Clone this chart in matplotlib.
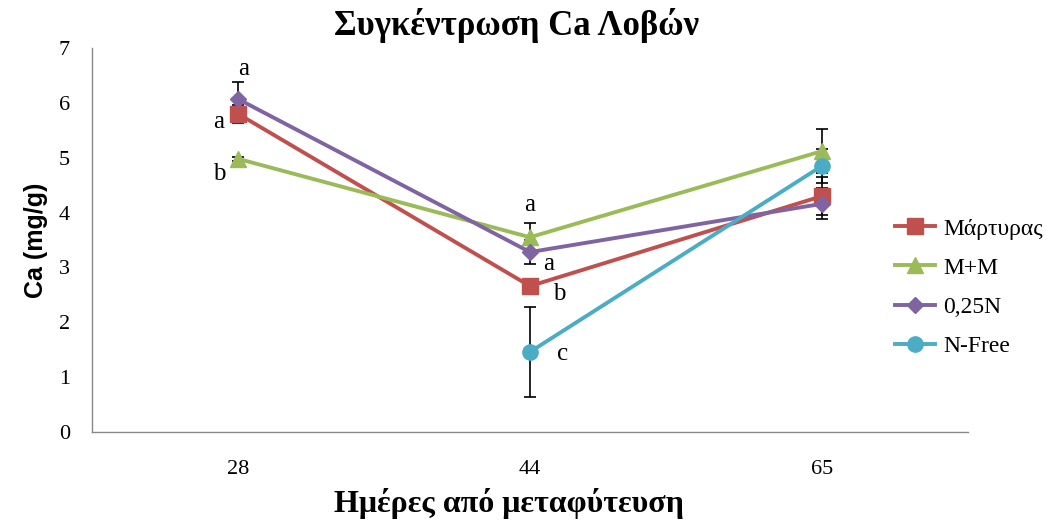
import numpy as np
import matplotlib
matplotlib.use('Agg')
import matplotlib.pyplot as plt

days = ['28', '44', '65']

control = [5.80, 2.66, 4.30]
control_err = [0.16, 0.10, 0.35]

mm = [4.98, 3.55, 5.12]
mm_err = [0.04, 0.26, 0.40]

n025 = [6.07, 3.28, 4.16]
n025_err = [0.31, 0.22, 0.28]

nfree = [np.nan, 1.46, 4.85]
nfree_err = [0.0, 0.82, 0.31]

# significance letters per day
letters_28 = ['a', 'a', 'b']
letters_44 = ['a', 'a', 'b', 'c']

plt.rcParams['font.family'] = ['Liberation Serif', 'DejaVu Serif']

fig = plt.figure(figsize=(10.47, 5.21), dpi=100)
ax = fig.add_axes([0.0879, 0.1708, 0.8366, 0.7371])

x = np.arange(len(days))

series = [
    ('Μάρτυρας', control, control_err, '#C0504D', 's', 11),
    ('M+M', mm, mm_err, '#9BBB59', '^', 11),
    ('0,25N', n025, n025_err, '#8064A2', 'D', 8),
    ('N-Free', nfree, nfree_err, '#4BACC6', 'o', 11),
]

for name, vals, errs, color, marker, ms in series:
    ax.errorbar(x, vals, yerr=errs, fmt='none', ecolor='black',
                elinewidth=1.2, capsize=4.5, capthick=1.2, zorder=2)
for name, vals, errs, color, marker, ms in series:
    ax.plot(x, vals, color=color, marker=marker, markersize=ms,
            linewidth=2.8, label=name, zorder=3)

lfs = 18
# letters at day 28
ax.text(x[0] + 0.02, n025[0] + 0.55, letters_28[0], fontsize=lfs, ha='center', va='center')
ax.text(x[0] - 0.065, control[0] - 0.15, letters_28[1], fontsize=lfs, ha='center', va='center')
ax.text(x[0] - 0.065, mm[0] - 0.28, letters_28[2], fontsize=lfs, ha='center', va='center')

# letters at day 44
ax.text(x[1], mm[1] + 0.58, letters_44[0], fontsize=lfs, ha='center', va='center')
ax.text(x[1] + 0.065, n025[1] - 0.22, letters_44[1], fontsize=lfs, ha='center', va='center')
ax.text(x[1] + 0.10, control[1] - 0.15, letters_44[2], fontsize=lfs, ha='center', va='center')
ax.text(x[1] + 0.11, nfree[1] - 0.03, letters_44[3], fontsize=lfs, ha='center', va='center')

ax.set_xlim(-0.5, 2.5)
ax.set_ylim(0, 7)
ax.set_yticks(range(0, 8))
ax.set_xticks(x)
ax.set_xticklabels(days)
ax.tick_params(axis='both', length=0, labelsize=16)
ax.tick_params(axis='x', pad=20)
ax.tick_params(axis='y', pad=16)

for side in ['top', 'right']:
    ax.spines[side].set_visible(False)
for side in ['left', 'bottom']:
    ax.spines[side].set_color('#888888')
    ax.spines[side].set_linewidth(1.0)

fig.text(0.493, 0.952, 'Συγκέντρωση Ca Λοβών', fontsize=25, fontweight='bold',
         ha='center', va='center')
ax.set_xlabel('Ημέρες από μεταφύτευση', fontsize=23, fontweight='bold')
ax.xaxis.set_label_coords(0.476, -0.145)
ax.set_ylabel('Ca (mg/g)', fontsize=18, fontweight='bold',
              family=['Liberation Sans', 'DejaVu Sans'], labelpad=8)

fig.legend(loc='center left', bbox_to_anchor=(0.855, 0.448), frameon=False,
           fontsize=17, handlelength=1.7, handletextpad=0.35, labelspacing=0.75,
           borderaxespad=0.0, borderpad=0.0)

fig.savefig('out.png', dpi=100)
